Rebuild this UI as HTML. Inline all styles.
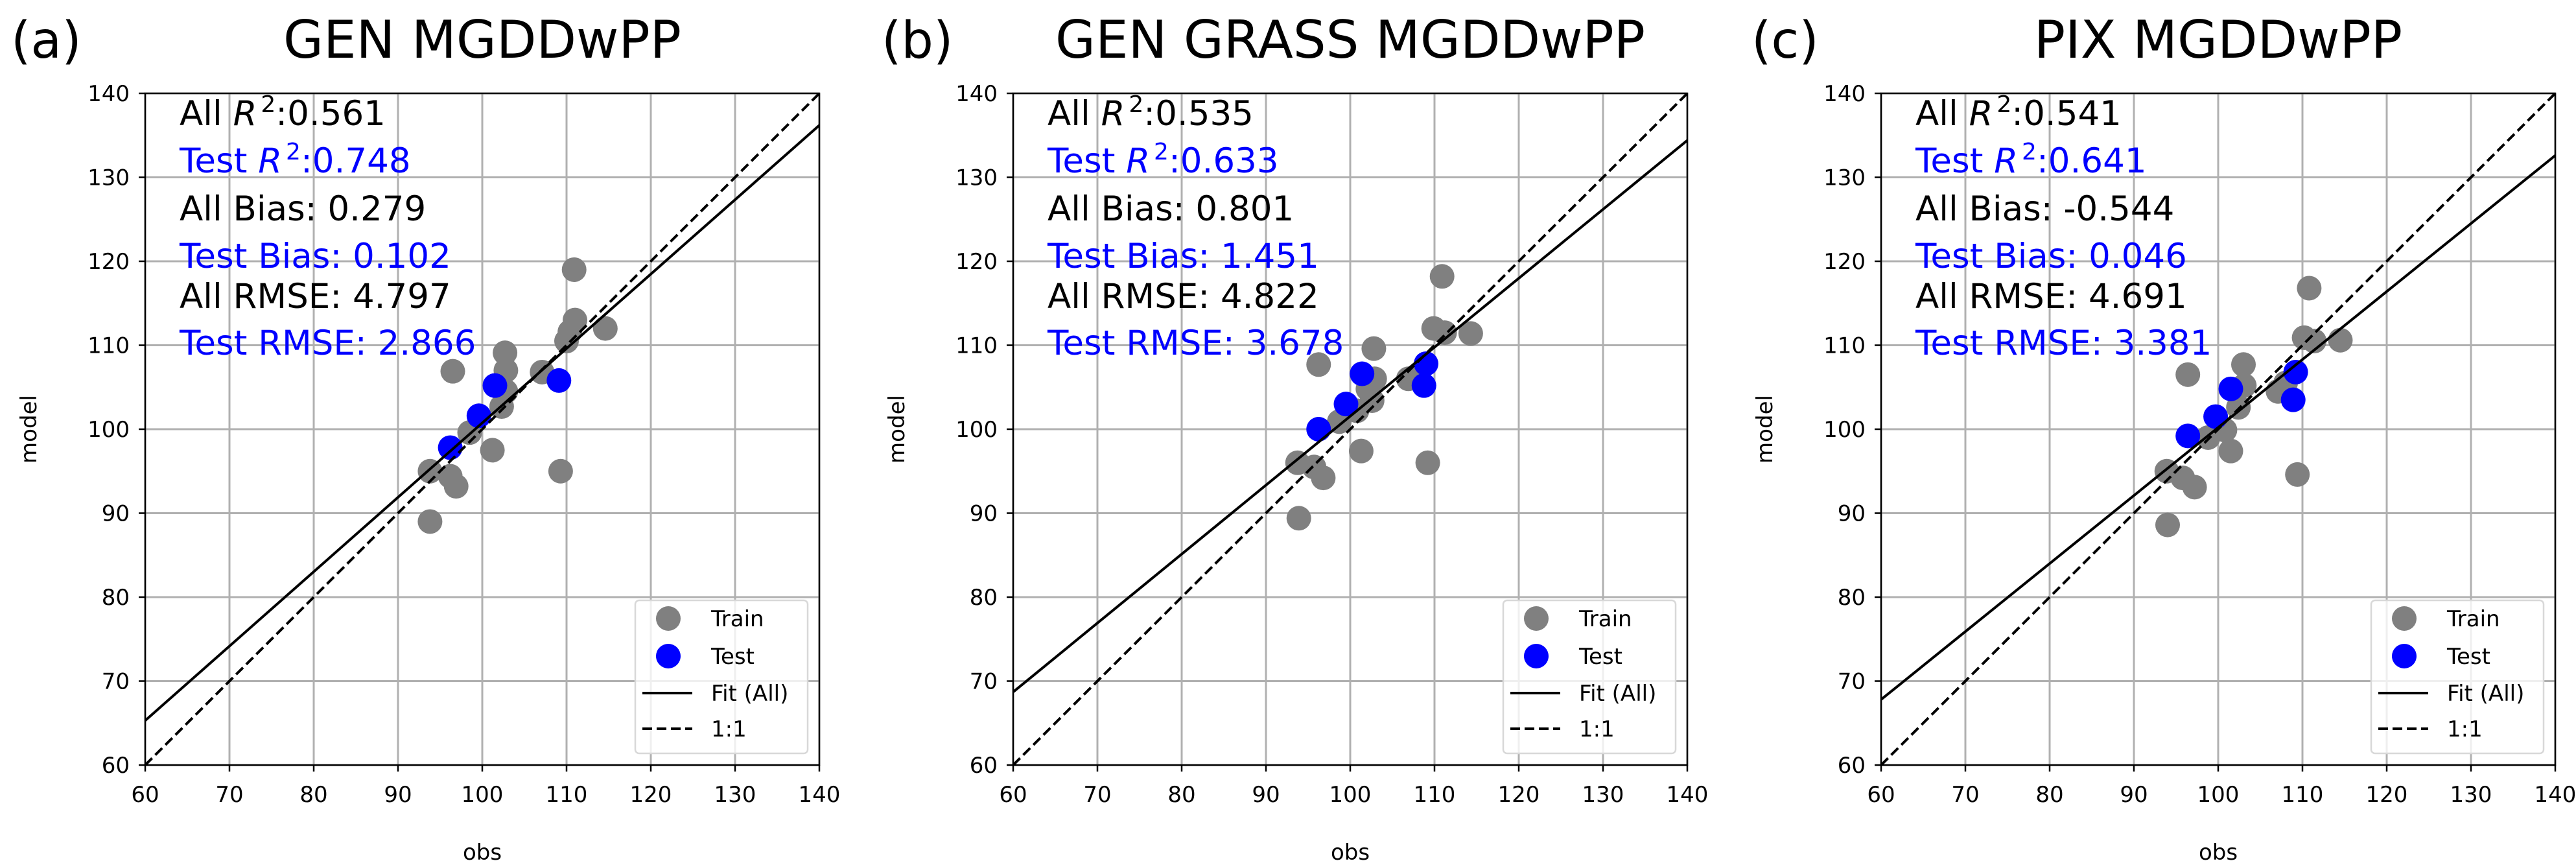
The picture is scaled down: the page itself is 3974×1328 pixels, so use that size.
<!DOCTYPE html>
<html><head><meta charset="utf-8">
<style>
html,body{margin:0;padding:0;background:#fff;}
svg{display:block;font-family:"DejaVu Sans","Liberation Sans",sans-serif;}
</style></head>
<body>
<svg id="fig" width="3974" height="1328" viewBox="0 0 3974 1328" xmlns="http://www.w3.org/2000/svg"></svg>
<script>
const ticks = [60,70,80,90,100,110,120,130,140];
const panelLetters = ["(a)","(b)","(c)"];
const panelTitles = ["GEN MGDDwPP","GEN GRASS MGDDwPP","PIX MGDDwPP"];
const statAllR2 = ["0.561","0.535","0.541"];
const statTestR2 = ["0.748","0.633","0.641"];
const statAllBias = ["0.279","0.801","-0.544"];
const statTestBias = ["0.102","1.451","0.046"];
const statAllRmse = ["4.797","4.822","4.691"];
const statTestRmse = ["2.866","3.678","3.381"];
const fitStart = [65.3,68.7,67.8];
const fitEnd = [136.2,134.4,132.6];
const trainObsA = [110.9,111.0,110.4,110.0,114.6,102.7,102.8,96.5,107.1,102.3,98.5,101.2,109.3,93.8,96.2,96.9,93.8,102.8];
const trainModA = [119.0,113.0,111.6,110.5,112.0,109.1,107.0,106.9,106.8,102.7,99.6,97.5,95.0,95.0,94.4,93.2,89.0,104.5];
const testObsA = [96.2,99.6,101.5,109.1];
const testModA = [97.8,101.6,105.2,105.8];
const trainObsB = [110.9,109.9,111.2,114.3,102.8,96.25,102.9,102.1,102.6,106.9,98.7,101.3,109.2,93.75,95.7,96.8,93.9,100.8];
const trainModB = [118.2,112.0,111.5,111.4,109.6,107.7,106.0,104.8,103.4,106.0,100.9,97.4,96.0,96.0,95.5,94.2,89.4,102.2];
const testObsB = [96.25,99.5,101.4,109.0,108.75];
const testModB = [100.0,103.0,106.6,107.8,105.2];
const trainObsC = [110.8,110.2,111.4,114.5,103.0,96.4,103.1,102.4,107.1,98.8,100.8,101.5,109.4,93.9,95.8,97.2,94.0,108.0];
const trainModC = [116.8,110.9,110.5,110.6,107.7,106.5,105.2,102.6,104.5,99.0,99.9,97.4,94.6,95.0,94.2,93.1,88.6,105.5];
const testObsC = [96.4,99.7,101.5,109.2,108.9];
const testModC = [99.2,101.5,104.8,106.8,103.5];

const trainObs=[trainObsA,trainObsB,trainObsC], trainMod=[trainModA,trainModB,trainModC];
const testObs=[testObsA,testObsB,testObsC], testMod=[testModA,testModB,testModC];

const NS="http://www.w3.org/2000/svg";
const svg=document.getElementById('fig');
function mk(tag,attrs,parent){const e=document.createElementNS(NS,tag);for(const k in attrs)e.setAttribute(k,attrs[k]);(parent||svg).appendChild(e);return e;}

const lefts=[224,1563,2902], W=1040, TOP=144, H=1036;
const letterX=[17,1360,2702];

for(let p=0;p<3;p++){
  const L=lefts[p];
  const sx=v=>L+(v-60)/80*W;
  const sy=v=>TOP+H-(v-60)/80*H;
  const g=mk('g',{});
  
  

  const lt=mk('text',{x:letterX[p],y:89,'font-size':78,fill:'#000'},g);
  lt.textContent=panelLetters[p];
  
  
  const tt=mk('text',{x:L+W/2,y:89,'font-size':80,'text-anchor':'middle',fill:'#000'},g);
  tt.textContent=panelTitles[p];
  
  

  const grid=mk('g',{stroke:'#b0b0b0','stroke-width':3},g);
  
  
  ticks.forEach(t=>{
    mk('line',{x1:sx(t),x2:sx(t),y1:TOP,y2:TOP+H},grid);
    mk('line',{x1:L,x2:L+W,y1:sy(t),y2:sy(t)},grid);
  });
  ticks.forEach(t=>{
    mk('line',{x1:sx(t),x2:sx(t),y1:TOP+H,y2:TOP+H+10,stroke:'#000','stroke-width':2.5},g);
    const xl=mk('text',{x:sx(t),y:TOP+H+57,'font-size':34,'text-anchor':'middle',fill:'#000'},g);
    xl.textContent=t;
    
    
    mk('line',{x1:L-10,x2:L,y1:sy(t),y2:sy(t),stroke:'#000','stroke-width':2.5},g);
    const yl=mk('text',{x:L-24,y:sy(t)+12,'font-size':34,'text-anchor':'end',fill:'#000'},g);
    yl.textContent=t;
    
    
  });
  const xt=mk('text',{x:L+W/2,y:1326,'font-size':34,'text-anchor':'middle',fill:'#000'},g);
  xt.textContent='obs';
  
  
  const yx=L-168, yy=TOP+H/2;
  const yt=mk('text',{x:yx,y:yy,'font-size':34,'text-anchor':'middle',fill:'#000',transform:`rotate(-90 ${yx} ${yy})`},g);
  yt.textContent='model';
  
  

  const cp=mk('clipPath',{id:'clip'+p},g);
  mk('rect',{x:L,y:TOP,width:W,height:H},cp);
  const plot=mk('g',{'clip-path':`url(#clip${p})`},g);

  for(let i=0;i<trainObs[p].length;i++){
    const c=mk('circle',{cx:sx(trainObs[p][i]),cy:sy(trainMod[p][i]),r:19,fill:'#808080'},plot);
    
    
  }
  for(let i=0;i<testObs[p].length;i++){
    const c=mk('circle',{cx:sx(testObs[p][i]),cy:sy(testMod[p][i]),r:19,fill:'#0000ff'},plot);
    
    
  }
  const fl=mk('line',{x1:sx(60),y1:sy(fitStart[p]),x2:sx(140),y2:sy(fitEnd[p]),stroke:'#000','stroke-width':4},plot);
  
  
  const ol=mk('line',{x1:sx(60),y1:sy(60),x2:sx(140),y2:sy(140),stroke:'#000','stroke-width':4,'stroke-dasharray':'15,7'},plot);
  
  

  mk('rect',{x:L,y:TOP,width:W,height:H,fill:'none',stroke:'#000','stroke-width':2.5},g);

  const tx=L+53;
  const rows=[
    {y:193,c:'#000',pre:'All ',r2:true,v:statAllR2[p],name:'all-r2'},
    {y:266,c:'#0000ff',pre:'Test ',r2:true,v:statTestR2[p],name:'test-r2'},
    {y:340,c:'#000',txt:'All Bias: '+statAllBias[p],name:'all-bias'},
    {y:413,c:'#0000ff',txt:'Test Bias: '+statTestBias[p],name:'test-bias'},
    {y:475,c:'#000',txt:'All RMSE: '+statAllRmse[p],name:'all-rmse'},
    {y:547,c:'#0000ff',txt:'Test RMSE: '+statTestRmse[p],name:'test-rmse'}
  ];
  rows.forEach(r=>{
    const t=mk('text',{x:tx,y:r.y,'font-size':53,fill:r.c},g);
    
    
    if(r.r2){
      const a=mk('tspan',{},t);a.textContent=r.pre;
      const b=mk('tspan',{'font-style':'italic'},t);b.textContent='R';
      const c=mk('tspan',{dx:6,dy:-20,'font-size':36},t);c.textContent='2';
      const d=mk('tspan',{dy:20},t);d.textContent=':'+r.v;
    } else t.textContent=r.txt;
  });

  const lg=mk('g',{},g);
  
  
  const lx=L+756;
  mk('rect',{x:lx,y:926,width:266,height:236,rx:6,fill:'#fff','fill-opacity':0.8,stroke:'#d8d8d8','stroke-width':2.5},lg);
  const ents=[['Train','#808080','dot'],['Test','#0000ff','dot'],['Fit (All)','#000','solid'],['1:1','#000','dash']];
  const ey=[954,1012,1069,1124];
  ents.forEach((e,i)=>{
    const eg=mk('g',{},lg);
    
    
    if(e[2]==='dot') mk('circle',{cx:lx+51,cy:ey[i],r:19,fill:e[1]},eg);
    else mk('line',{x1:lx+11,x2:lx+88,y1:ey[i],y2:ey[i],stroke:'#000','stroke-width':4,'stroke-dasharray':e[2]==='dash'?'15,7':'none'},eg);
    const t=mk('text',{x:lx+117,y:ey[i]+12,'font-size':34,fill:'#000'},eg);
    t.textContent=e[0];
  });
}
</script>
</body></html>
